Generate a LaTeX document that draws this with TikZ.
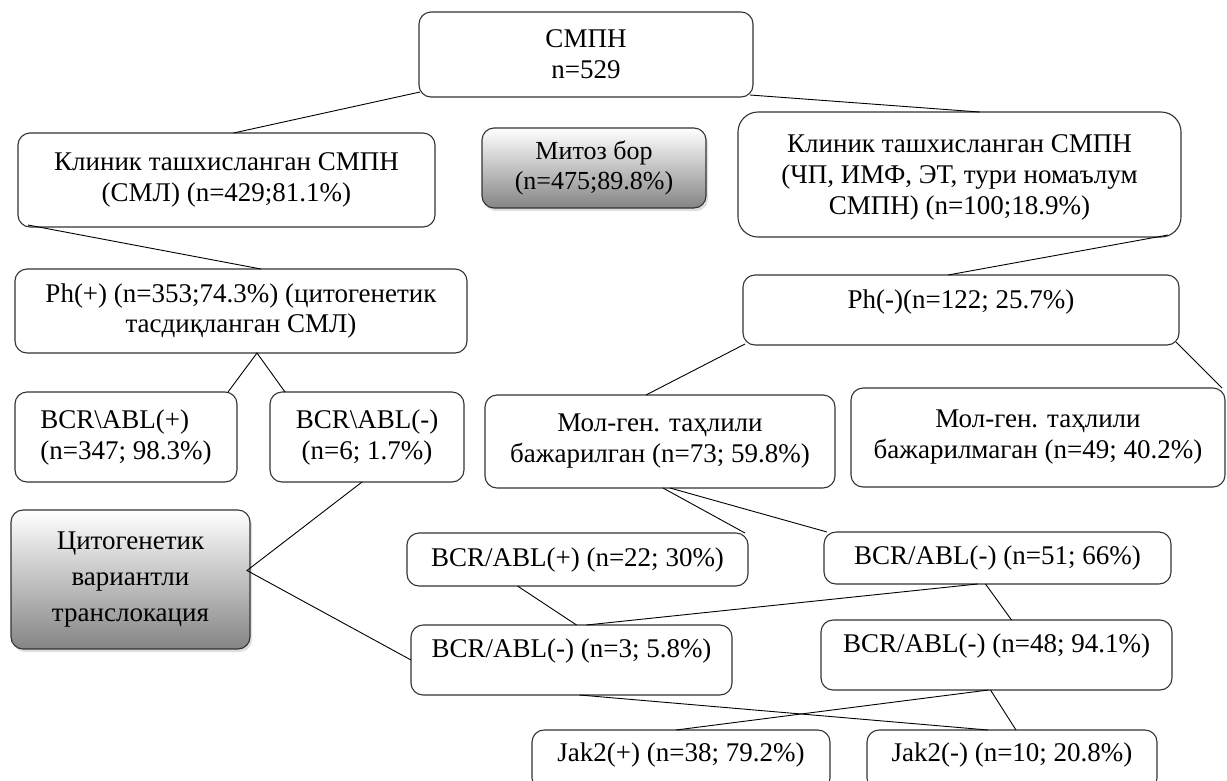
\documentclass[tikz,border=0pt]{standalone}
\usepackage{fontspec}
\setmainfont{Liberation Serif}
\usetikzlibrary{calc,shadows}
\begin{document}
\begin{tikzpicture}[x=1pt,y=-1pt,
  box/.style={draw=black!80, line width=1.1pt, rounded corners=12pt, fill=white,
    inner sep=0pt, outer sep=0pt, align=center,
    font=\fontsize{27}{31}\selectfont},
  gbox/.style={box, top color=white, middle color=black!12, bottom color=black!48,
    drop shadow={opacity=0.25, shadow xshift=2pt, shadow yshift=-3pt}},
  txt/.style={inner sep=0pt, align=center, font=\fontsize{27}{31}\selectfont},
  conn/.style={draw=black, line width=0.9pt}]
\useasboundingbox (0,0) rectangle (1227,780);

% boxes
\node[box, minimum width=334pt, minimum height=85pt] (smpn) at (586,54.5) {СМПН\\n=529};
\node[box, minimum width=417pt, minimum height=94pt] (klL) at (226.5,180) {Клиник ташхисланган СМПН\\(СМЛ) (n=429;81.1\%)};
\node[gbox, minimum width=224pt, minimum height=80pt, font=\fontsize{26}{30}\selectfont] (mitoz) at (594,168) {Митоз бор\\(n=475;89.8\%)};
\node[box, rounded corners=20pt, minimum width=443pt, minimum height=125pt, font=\fontsize{27}{31}\selectfont] (klR) at (959.5,174.5) {};
\node[txt, yshift=-3pt] (klRt) at (klR.center) {Клиник ташхисланган СМПН\\(ЧП, ИМФ, ЭТ, тури номаълум\\СМПН) (n=100;18.9\%)};
\node[box, minimum width=452pt, minimum height=84pt] (phP) at (241,311) {Ph(+) (n=353;74.3\%) (цитогенетик\\тасдиқланган СМЛ)};
\node[box, minimum width=436pt, minimum height=70pt] (phM) at (961,310) {};
\node[txt, yshift=8pt] (phMt) at (phM.center) {Ph(-)(n=122; 25.7\%)};
\node[box, minimum width=222pt, minimum height=90pt, align=left] (bcrP) at (126,437) {BCR\textbackslash ABL(+)\\(n=347; 98.3\%)};
\node[box, minimum width=194pt, minimum height=90pt] (bcrM) at (367,437) {BCR\textbackslash ABL(-)\\(n=6; 1.7\%)};
\node[box, minimum width=350pt, minimum height=93pt] (molB) at (660,441.5) {Мол-ген. таҳлили\\бажарилган (n=73; 59.8\%)};
\node[box, minimum width=374pt, minimum height=99pt] (molN) at (1038,437.5) {Мол-ген. таҳлили\\бажарилмаган (n=49; 40.2\%)};
\node[gbox, minimum width=239pt, minimum height=139pt, font=\fontsize{27}{36}\selectfont] (tsit) at (130.5,579.5) {Цитогенетик\\вариантли\\транслокация};
\node[box, minimum width=341pt, minimum height=53pt] (n22) at (577.5,559.5) {BCR/ABL(+) (n=22; 30\%)};
\node[box, minimum width=347pt, minimum height=52pt] (n51) at (997.5,558) {BCR/ABL(-) (n=51; 66\%)};
\node[box, minimum width=321pt, minimum height=70pt] (n3) at (571.5,660) {};
\node[txt, yshift=9pt] (n3t) at (n3.center) {BCR/ABL(-) (n=3; 5.8\%)};
\node[box, minimum width=351pt, minimum height=70pt] (n48) at (996.5,655) {};
\node[txt, yshift=9pt] (n48t) at (n48.center) {BCR/ABL(-) (n=48; 94.1\%)};
\node[box, minimum width=298pt, minimum height=60pt] (jakP) at (681,760) {};
\node[txt, yshift=5pt] (jakPt) at (jakP.center) {Jak2(+) (n=38; 79.2\%)};
\node[box, minimum width=290pt, minimum height=60pt] (jakM) at (1012,760) {};
\node[txt, yshift=5pt] (jakMt) at (jakM.center) {Jak2(-) (n=10; 20.8\%)};

% connectors
\draw[conn] ($(smpn.south west)+(1,-5)$) -- ($(klL.north)+(7,0)$);
\draw[conn] ($(smpn.south east)+(-3,-2)$) -- ($(klR.north)+(20,0)$);
\draw[conn] ($(klL.south west)+(10,-2)$) -- ($(phP.north)+(20,0)$);
\draw[conn] ($(klR.south east)+(-13,-2)$) -- ($(phM.north)+(-13,0)$);
\draw[conn] ($(bcrP.north east)+(-9,0)$) -- ($(phP.south)+(16,0)$) -- ($(bcrM.north west)+(15,0)$);
\draw[conn] ($(bcrM.south)+(-5,0)$) -- ($(tsit.east)+(-3,-9)$) -- (n3.west);
\draw[conn] ($(phM.south west)+(2,-1)$) -- ($(molB.north)+(-14,0)$);
\draw[conn] ($(phM.south east)+(-3,-3)$) -- ($(molN.north east)+(-3,0)$);
\draw[conn] ($(molB.south)+(3,0)$) -- ($(n22.north east)+(-3,0)$);
\draw[conn] ($(molB.south)+(10,0)$) -- ($(n51.north west)+(3,0)$);
\draw[conn] ($(n22.south)+(-60,0)$) -- ($(n3.north)+(5,0)$);
\draw[conn] ($(n51.south)+(-20,0)$) -- ($(n3.north)+(15,0)$);
\draw[conn] ($(n51.south)+(-12,0)$) -- ($(n48.north)+(15,0)$);
\draw[conn] ($(n3.south)+(8,0)$) -- ($(jakM.north)+(-24,0)$);
\draw[conn] ($(n48.south)+(-8,0)$) -- ($(jakP.north)+(-5,0)$);
\draw[conn] ($(n48.south)+(-6,0)$) -- ($(jakM.north)+(4,0)$);
\end{tikzpicture}
\end{document}
